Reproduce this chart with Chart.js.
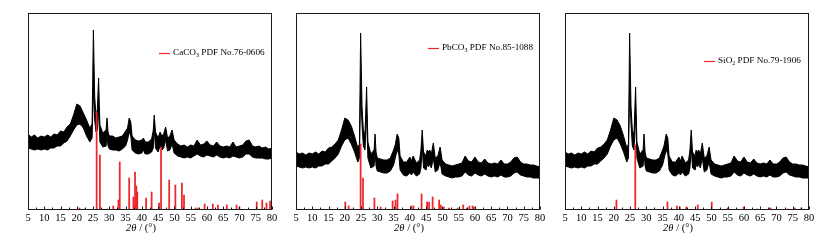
<!DOCTYPE html>
<html>
<head>
<meta charset="utf-8">
<script src="https://cdn.jsdelivr.net/npm/chart.js@4"></script>
<style>
  html, body { margin: 0; padding: 0; background: #fff; }
  body { width: 840px; height: 247px; position: relative; overflow: hidden; }
  .panel { position: absolute; top: 0; width: 280px; height: 247px; }
</style>
</head>
<body>
<div class="panel" style="left:0px"><canvas id="chart1" width="280" height="247"></canvas></div>
<div class="panel" style="left:280px"><canvas id="chart2" width="280" height="247"></canvas></div>
<div class="panel" style="left:560px"><canvas id="chart3" width="280" height="247"></canvas></div>
<script>
// 2θ grid of the measured pattern, first panel
const angle1 = [
  5, 6, 7, 8, 9, 10, 11, 12, 13, 14,
  15, 16, 17, 18, 19, 20, 21, 22, 23, 24,
  24.7, 25.1, 25.5, 25.9, 26.3, 26.7, 27.1, 28, 29, 29.3,
  29.6, 30, 31, 32, 33, 34, 35, 35.6, 36.1, 36.6,
  37, 38, 39, 40, 40.5, 41, 42, 43, 43.5, 43.8,
  44.2, 45, 45.6, 46.2, 46.7, 47.3, 47.9, 48.6, 49.3, 49.9,
  51, 52, 53, 54, 55, 56, 57, 58, 59, 60,
  61, 62, 63, 64, 65, 66, 67, 68, 69, 70,
  71, 72, 73, 74, 75, 76, 77, 78, 79, 80
];
// top and bottom edge of the noisy trace
const upper1 = [
  76, 73, 75, 72, 74, 73, 75, 73, 76, 75,
  79, 78, 83, 86, 95, 106, 104, 97, 90, 82,
  86, 180, 113, 95, 100, 132, 85, 77, 80, 92,
  78, 74, 74, 72, 73, 74, 79, 82, 92, 88,
  74, 70, 69, 70, 72, 68, 68, 71, 80, 95,
  78, 72, 78, 74, 76, 83, 72, 74, 80, 70,
  66, 64, 65, 63, 65, 64, 70, 65, 66, 69,
  65, 64, 68, 64, 63, 64, 63, 68, 63, 64,
  65, 69, 70, 64, 63, 64, 62, 63, 61, 62
];
const lower1 = [
  62, 61, 60, 61, 60, 61, 60, 62, 62, 64,
  64, 67, 69, 74, 80, 85, 86, 82, 74, 68,
  72, 120, 90, 78, 80, 100, 68, 63, 64, 75,
  64, 61, 60, 60, 59, 61, 64, 70, 78, 74,
  60, 57, 56, 57, 60, 56, 56, 58, 62, 80,
  62, 58, 64, 60, 62, 70, 59, 60, 66, 57,
  54, 53, 52, 53, 52, 54, 56, 54, 53, 55,
  54, 53, 55, 53, 52, 53, 52, 54, 53, 52,
  53, 56, 56, 53, 52, 52, 52, 51, 51, 52
];

// same sample, second and third panel
const angle2 = [
  5, 6, 7, 8, 9, 10, 11, 12, 13, 14,
  15, 16, 17, 18, 19, 20, 21, 22, 23, 24,
  24.5, 24.86, 25.3, 25.7, 26.2, 26.7, 27.1, 28, 29, 29.3,
  29.6, 30, 31, 32, 33, 34, 35, 35.5, 36.1, 36.6,
  37, 38, 39, 40, 40.5, 41, 42, 43, 43.4, 43.8,
  44.2, 45, 45.3, 45.7, 46.1, 46.6, 47.2, 47.8, 48.6, 49.3,
  49.9, 51, 52, 53, 54, 55, 56, 57, 58, 59,
  60, 61, 62, 63, 64, 65, 66, 67, 68, 69,
  70, 71, 72, 73, 74, 75, 76, 77, 78, 79,
  80
];
const upper2 = [
  58, 56, 57, 55, 57, 56, 58, 56, 59, 58,
  62, 63, 66, 70, 80, 92, 90, 84, 74, 62,
  66, 177, 103, 80, 75, 123, 68, 56, 60, 76,
  58, 52, 51, 50, 50, 52, 60, 65, 76, 72,
  54, 48, 48, 53, 49, 54, 47, 50, 60, 80,
  58, 54, 60, 58, 60, 56, 67, 52, 54, 63,
  50, 46, 45, 44, 45, 46, 47, 54, 49, 48,
  53, 48, 47, 51, 47, 46, 47, 46, 50, 46,
  46, 48, 52, 53, 48, 46, 46, 45, 45, 44,
  43
];
const lower2 = [
  44, 43, 42, 43, 42, 43, 42, 44, 44, 46,
  46, 49, 52, 56, 64, 70, 72, 66, 58, 48,
  52, 120, 85, 64, 60, 95, 52, 42, 44, 58,
  44, 39, 38, 37, 37, 39, 45, 52, 60, 56,
  40, 35, 34, 37, 35, 38, 34, 36, 42, 62,
  42, 40, 46, 43, 46, 42, 52, 38, 40, 48,
  36, 34, 33, 32, 33, 33, 34, 38, 35, 34,
  37, 35, 34, 36, 34, 33, 34, 33, 35, 33,
  33, 34, 37, 38, 35, 34, 33, 33, 32, 32,
  32
];

// reference cards (stick positions and heights)
const caco3Pos = [20.8, 22.3, 26.1, 27.1, 29.4, 31.2, 32.8, 33.2, 36.1, 37.4,
  37.9, 38.3, 38.6, 41.3, 43.0, 45.3, 45.9, 48.4, 50.3, 52.3,
  52.95, 56.5, 57.2, 59.3, 61.8, 63.4, 66.1, 69.1, 70.0, 75.3,
  77.0, 78.3, 79.4];
const caco3Int = [2, 1, 98, 55, 1, 4, 10, 48, 32, 13,
  38, 24, 18, 12, 18, 7, 63, 30, 25, 27,
  15, 2, 2, 6, 6, 5, 5, 5, 3, 8,
  10, 7, 9];
const pbco3Pos = [20.15, 21.2, 22.2, 24.86, 25.6, 29.1, 31.0, 34.7, 35.6, 36.2,
  40.5, 41.1, 43.6, 45.3, 45.9, 47.0, 49.0, 49.5, 50.4, 52.0,
  54.7, 56.4, 57.5, 58.3, 59.3, 59.7];
const pbco3Int = [8, 4, 1, 66, 32, 12, 3, 9, 10, 16,
  4, 4, 16, 8, 8, 13, 10, 5, 3, 2,
  2, 5, 2, 4, 4, 3];
const sio2Pos = [20.8, 26.6, 36.5, 39.4, 40.3, 42.3, 45.8, 50.1, 55.0, 59.9,
  64.1, 67.7, 68.2, 73.5, 75.6, 77.6];
const sio2Int = [10, 65, 8, 4, 3, 3, 5, 8, 2, 3,
  1, 2, 2, 1, 2, 2];

const xTicks = [5, 10, 15, 20, 25, 30, 35, 40, 45, 50, 55, 60, 65, 70, 75, 80];

const RED = 'rgb(236, 38, 44)';
const SERIF = '"Liberation Serif", "Times New Roman", serif';

// frame, inward ticks, axis title and the little legend
const framePlugin = {
  id: 'frame',
  afterDraw(chart, args, opts) {
    const { ctx, chartArea: a } = chart;
    const x = chart.scales.x;
    ctx.save();
    ctx.strokeStyle = '#1a1a1a';
    ctx.lineWidth = 1;
    const L = Math.round(a.left) + 0.5, R = Math.round(a.right) - 0.5;
    const T = Math.round(a.top) + 0.5, B = Math.round(a.bottom) - 0.5;
    ctx.strokeRect(L, T, R - L, B - T);

    // major ticks on labels, minor ticks halfway between
    ctx.beginPath();
    xTicks.forEach((v, i) => {
      const px = Math.round(x.getPixelForValue(v)) + 0.5;
      ctx.moveTo(px, B); ctx.lineTo(px, B - 3);
      if (i < xTicks.length - 1) {
        const mx = Math.round(x.getPixelForValue((v + xTicks[i + 1]) / 2)) + 0.5;
        ctx.moveTo(mx, B); ctx.lineTo(mx, B - 2);
      }
    });
    ctx.stroke();

    // axis title: 2θ / (°)
    ctx.fillStyle = '#000';
    ctx.textBaseline = 'middle';
    const cx = (a.left + a.right) / 2 - 9;
    const p1 = '2θ', p2 = ' / (°)';
    ctx.font = 'italic 10.5px ' + SERIF;
    const w1 = ctx.measureText(p1).width;
    ctx.font = '10.5px ' + SERIF;
    const w2 = ctx.measureText(p2).width;
    const tx = cx - (w1 + w2) / 2;
    ctx.font = 'italic 10.5px ' + SERIF;
    ctx.fillText(p1, tx, 228);
    ctx.font = '10.5px ' + SERIF;
    ctx.fillText(p2, tx + w1, 228);

    // legend
    const lx = a.left + opts.dx, ly = opts.y;
    ctx.strokeStyle = RED;
    ctx.lineWidth = 1.2;
    ctx.beginPath();
    ctx.moveTo(lx, ly + 0.5); ctx.lineTo(lx + 11, ly + 0.5);
    ctx.stroke();
    let ox = lx + 14;
    ctx.font = '9.2px ' + SERIF;
    ctx.fillText(opts.name, ox, ly);
    ox += ctx.measureText(opts.name).width;
    ctx.font = '6px ' + SERIF;
    ctx.fillText(opts.sub, ox, ly + 2.5);
    ox += ctx.measureText(opts.sub).width;
    ctx.font = '9.2px ' + SERIF;
    ctx.fillText(opts.card, ox, ly);
    ctx.restore();
  }
};

function makeChart(id, padLeft, padRight, angle, upper, lower, pos, inten, legend) {
  const pts = ys => angle.map((a, i) => ({ x: a, y: ys[i] }));
  return new Chart(document.getElementById(id), {
    type: 'line',
    data: {
      datasets: [
        {
          type: 'bar',
          data: pos.map((p, i) => ({ x: p, y: inten[i] })),
          backgroundColor: RED,
          borderWidth: 0,
          barThickness: 1.1
        },
        {
          data: pts(upper),
          borderColor: '#000',
          backgroundColor: '#000',
          borderWidth: 1,
          pointRadius: 0,
          tension: 0,
          fill: '+1'
        },
        {
          data: pts(lower),
          borderColor: '#000',
          borderWidth: 1,
          pointRadius: 0,
          tension: 0,
          fill: false
        }
      ]
    },
    options: {
      responsive: false,
      animation: false,
      layout: { padding: { left: padLeft, right: padRight, top: 13, bottom: 0 } },
      plugins: {
        legend: { display: false },
        tooltip: { enabled: false },
        frame: legend
      },
      scales: {
        x: {
          type: 'linear',
          min: 5,
          max: 80,
          offset: false,
          grid: { display: false, drawTicks: false },
          border: { display: false },
          afterBuildTicks: s => { s.ticks = xTicks.map(v => ({ value: v })); },
          afterFit: s => { s.height = 37; },
          ticks: {
            color: '#000',
            padding: 2,
            maxRotation: 0,
            autoSkip: false,
            font: { family: SERIF, size: 10.5 }
          }
        },
        y: { display: false, min: 0, max: 197 }
      }
    },
    plugins: [framePlugin]
  });
}

makeChart('chart1', 28, 8, angle1, upper1, lower1, caco3Pos, caco3Int,
  { dx: 131, y: 53, name: 'CaCO', sub: '3', card: ' PDF No.76-0606' });
makeChart('chart2', 16, 20, angle2, upper2, lower2, pbco3Pos, pbco3Int,
  { dx: 132, y: 48, name: 'PbCO', sub: '3', card: ' PDF No.85-1088' });
makeChart('chart3', 5, 31, angle2, upper2, lower2, sio2Pos, sio2Int,
  { dx: 139, y: 61, name: 'SiO', sub: '2', card: ' PDF No.79-1906' });
</script>
</body>
</html>
